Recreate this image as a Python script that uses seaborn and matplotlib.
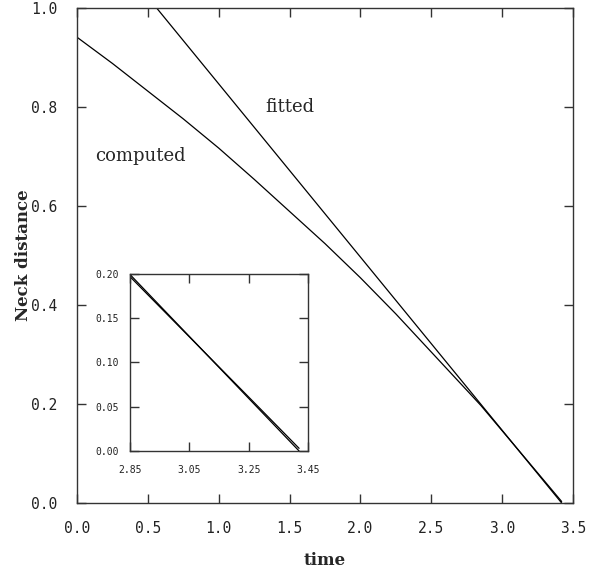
import pandas as pd
import matplotlib
matplotlib.use("Agg")
import matplotlib.pyplot as plt
import seaborn as sns

# computed neck distance
computed_t = [0.0, 0.25, 0.5, 0.75, 1.0, 1.25, 1.5, 1.75, 2.0, 2.25, 2.5, 2.75, 2.85, 3.0, 3.25, 3.42]
computed_d = [0.941, 0.888, 0.832, 0.776, 0.717, 0.654, 0.589, 0.524, 0.455, 0.382,
              0.305, 0.228, 0.197, 0.146, 0.061, 0.003]

# fitted straight line
fitted_t = [0.562, 3.42]
fitted_d = [1.0, 0.0]

main_xticks = [0.0, 0.5, 1.0, 1.5, 2.0, 2.5, 3.0, 3.5]
main_yticks = [0.0, 0.2, 0.4, 0.6, 0.8, 1.0]
inset_xticks = [2.85, 3.05, 3.25, 3.45]
inset_yticks = [0.00, 0.05, 0.10, 0.15, 0.20]

sns.set_style("ticks")
plt.rcParams["font.family"] = ["DejaVu Sans Mono"]

df = pd.concat([
    pd.DataFrame({"time": computed_t, "dist": computed_d, "curve": "computed"}),
    pd.DataFrame({"time": fitted_t, "dist": fitted_d, "curve": "fitted"}),
])

fig = plt.figure(figsize=(5.89, 5.79), dpi=100)
ax = fig.add_axes([0.1307, 0.1313, 0.8421, 0.8549])
ins = fig.add_axes([0.2207, 0.2211, 0.3022, 0.3057])


def style_axes(a, xt, yt, fmt, size, pad_x, pad_y):
    a.set_xticks(xt)
    a.set_yticks(yt)
    a.set_xticklabels([fmt.format(v) for v in xt])
    a.set_yticklabels([fmt.format(v) for v in yt])
    a.tick_params(direction="in", length=6.5, width=1.0, color="#333333",
                  top=True, right=True, labelsize=size, labelcolor="#222222")
    a.tick_params(axis="x", pad=pad_x)
    a.tick_params(axis="y", pad=pad_y)
    for s in a.spines.values():
        s.set_visible(True)
        s.set_linewidth(1.0)
        s.set_color("#333333")
    a.set_xlabel("")
    a.set_ylabel("")


for a in (ax, ins):
    sns.lineplot(data=df, x="time", y="dist", units="curve", estimator=None,
                 sort=False, color="black", linewidth=0.9, ax=a)

ax.set_xlim(0, 3.5)
ax.set_ylim(0, 1.0)
ins.set_xlim(2.85, 3.45)
ins.set_ylim(0, 0.2)

style_axes(ax, main_xticks, main_yticks, "{:.1f}", 10.5, 13, 14)
style_axes(ins, inset_xticks, inset_yticks, "{:.2f}", 7, 10, 8)

ax.text(1.50, 0.80, "fitted", family="DejaVu Serif", fontsize=13,
        ha="center", va="center")
ax.text(0.45, 0.70, "computed", family="DejaVu Serif", fontsize=13,
        ha="center", va="center")

ax.set_xlabel("time", family="DejaVu Serif", fontweight="bold", fontsize=12)
ax.set_ylabel("Neck distance", family="DejaVu Serif", fontweight="bold", fontsize=12)
ax.xaxis.set_label_coords(0.5, -0.10)
ax.yaxis.set_label_coords(-0.09, 0.5)

fig.savefig("out.png", dpi=100)
plt.close(fig)
